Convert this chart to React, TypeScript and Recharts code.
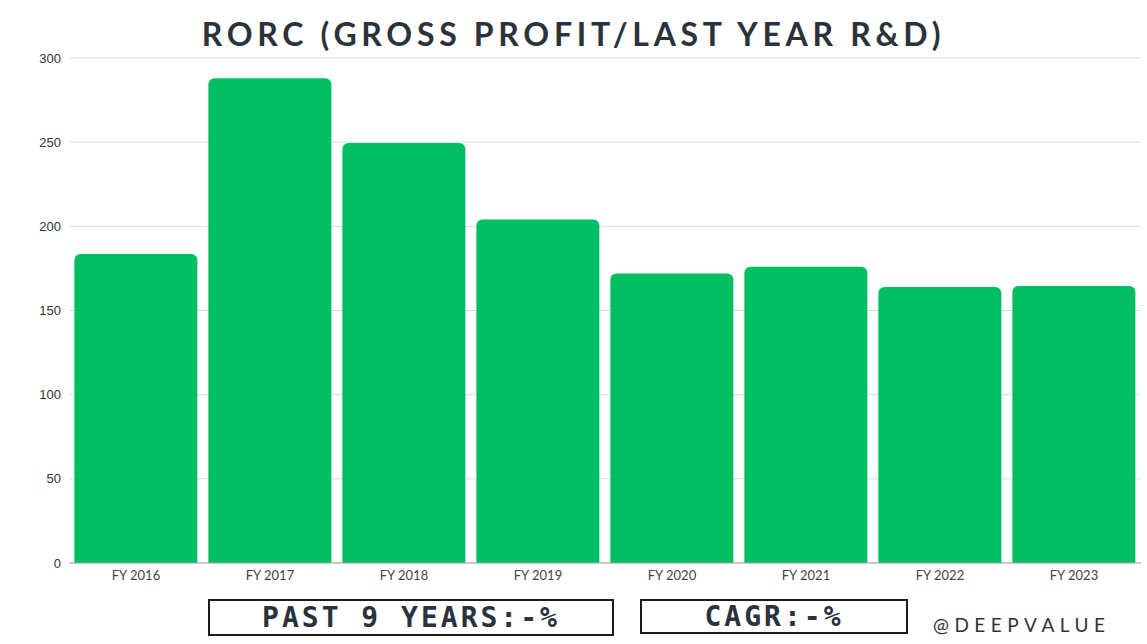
// RORC bar chart: gross profit / last year R&D, FY2016–FY2023
import { BarChart, Bar, XAxis, YAxis, CartesianGrid } from "recharts";

const years = ["FY 2016", "FY 2017", "FY 2018", "FY 2019", "FY 2020", "FY 2021", "FY 2022", "FY 2023"];
const rorc = [183.5, 288, 249.5, 204, 172, 176, 164, 164.5];
const yTicks = [0, 50, 100, 150, 200, 250, 300];

const data = years.map((year, i) => ({ year, rorc: rorc[i] }));

const GREEN = "#00bf62";
const DARK = "#2a323c";

const boxStyle: React.CSSProperties = {
  position: "absolute",
  top: 599,
  height: 37,
  boxSizing: "border-box",
  border: "2px solid #1c1c1c",
  display: "flex",
  alignItems: "center",
  justifyContent: "center",
  fontFamily: "'DejaVu Sans Mono', monospace",
  fontWeight: 700,
  fontSize: 28,
  letterSpacing: 3,
  color: DARK,
};

export default function App() {
  return (
    <div
      style={{
        position: "absolute",
        left: 0,
        top: 0,
        width: 1147,
        height: 644,
        background: "#fff",
        fontFamily: "Lato, sans-serif",
      }}
    >
      <div
        style={{
          position: "absolute",
          top: 12,
          left: 0,
          width: 1147,
          textAlign: "center",
          fontSize: 32,
          fontWeight: 700,
          letterSpacing: 4.7,
          color: DARK,
          lineHeight: "44px",
        }}
      >
        RORC (GROSS PROFIT/LAST YEAR R&amp;D)
      </div>

      <BarChart
        width={1147}
        height={644}
        data={data}
        margin={{ top: 58, right: 6, bottom: 51, left: 9 }}
        barCategoryGap="4%"
      >
        <CartesianGrid vertical={false} stroke="#dcdcdc" />
        <XAxis
          dataKey="year"
          height={30}
          tickLine={false}
          axisLine={{ stroke: "#a8a8a8" }}
          tick={{ fontSize: 13, fill: "#444", fontFamily: "Lato" }}
          interval={0}
        />
        <YAxis
          width={60}
          domain={[0, 300]}
          ticks={yTicks}
          tickLine={false}
          axisLine={false}
          tick={{ fontSize: 13, fill: "#333", fontFamily: "Liberation Sans, Arial" }}
        />
        <Bar dataKey="rorc" fill={GREEN} radius={[6, 6, 0, 0]} isAnimationActive={false} />
      </BarChart>

      <div style={{ ...boxStyle, left: 208, width: 406 }}>PAST 9 YEARS:-%</div>
      <div style={{ ...boxStyle, left: 640, width: 268, height: 35 }}>CAGR:-%</div>
      <div
        style={{
          position: "absolute",
          left: 933,
          top: 612,
          fontSize: 19,
          letterSpacing: 5.5,
          color: "#333",
          lineHeight: "26px",
        }}
      >
        @DEEPVALUE
      </div>
    </div>
  );
}
